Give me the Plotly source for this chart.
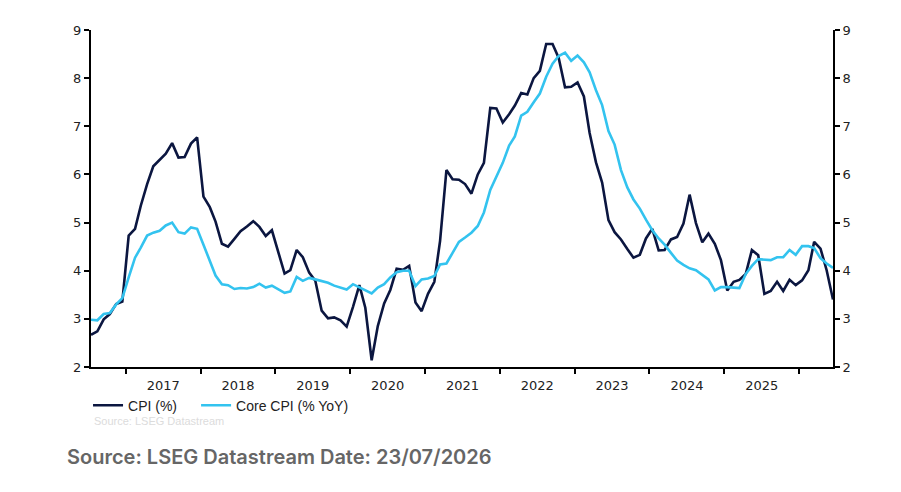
import pandas as pd
import plotly.graph_objects as go

# monthly readings, Jul 2016 .. Jun 2026
start_month = "2016-07-01"

cpi = [
    2.67, 2.74, 2.99, 3.10, 3.31, 3.36,
    4.73, 4.87, 5.35, 5.80, 6.17, 6.31, 6.43, 6.65, 6.35, 6.36, 6.64, 6.77,
    5.54, 5.32, 5.02, 4.56, 4.50, 4.66, 4.82, 4.92, 5.03, 4.91, 4.72, 4.84,
    4.38, 3.94, 4.01, 4.43, 4.28, 3.96, 3.79, 3.17, 3.01, 3.03, 2.97, 2.84,
    3.25, 3.70, 3.23, 2.14, 2.85, 3.32, 3.60, 4.04, 4.02, 4.10, 3.34, 3.16,
    3.52, 3.77, 4.62, 6.09, 5.90, 5.89, 5.80, 5.60, 6.00, 6.24, 7.38, 7.37,
    7.08, 7.25, 7.43, 7.69, 7.66, 8.00, 8.15, 8.71, 8.71, 8.42, 7.81, 7.82,
    7.91, 7.62, 6.86, 6.25, 5.83, 5.05, 4.80, 4.65, 4.45, 4.27, 4.33, 4.67,
    4.87, 4.42, 4.43, 4.65, 4.70, 4.98, 5.58, 4.99, 4.59, 4.77, 4.56, 4.22,
    3.59, 3.77, 3.81, 3.93, 4.43, 4.32, 3.52, 3.58, 3.77, 3.58, 3.81, 3.70,
    3.80, 4.01, 4.60, 4.46, 4.01, 3.40,
]

core_cpi = [
    2.98, 2.97, 3.10, 3.12, 3.30, 3.43,
    3.86, 4.27, 4.48, 4.73, 4.79, 4.83, 4.94, 5.00, 4.80, 4.77, 4.90, 4.87,
    4.54, 4.20, 3.90, 3.72, 3.70, 3.62, 3.64, 3.63, 3.66, 3.73, 3.65, 3.69,
    3.61, 3.54, 3.57, 3.87, 3.79, 3.85, 3.82, 3.78, 3.75, 3.69, 3.65, 3.61,
    3.72, 3.65, 3.60, 3.53, 3.65, 3.72, 3.86, 3.97, 4.00, 4.00, 3.68, 3.82,
    3.84, 3.89, 4.13, 4.15, 4.37, 4.60, 4.69, 4.79, 4.93, 5.21, 5.68, 5.97,
    6.24, 6.60, 6.79, 7.22, 7.30, 7.50, 7.68, 8.03, 8.30, 8.46, 8.53, 8.36,
    8.47, 8.33, 8.12, 7.75, 7.44, 6.90, 6.62, 6.09, 5.73, 5.48, 5.29, 5.06,
    4.84, 4.67, 4.54, 4.37, 4.21, 4.12, 4.05, 4.01, 3.92, 3.82, 3.59, 3.66,
    3.66, 3.65, 3.64, 3.93, 4.10, 4.24, 4.23, 4.22, 4.28, 4.28, 4.43, 4.33,
    4.51, 4.51, 4.47, 4.26, 4.15, 4.06,
]

y_ticks = [2, 3, 4, 5, 6, 7, 8, 9]

# points sit mid-month
dates = pd.date_range(start_month, periods=len(cpi), freq="MS") + pd.Timedelta(days=14)

navy = "#0b1640"
sky = "#33c3ef"

fig = go.Figure()
fig.add_trace(go.Scatter(x=dates, y=cpi, mode="lines", name="CPI (%)",
                         line=dict(color=navy, width=2.6), legend="legend"))
fig.add_trace(go.Scatter(x=dates, y=core_cpi, mode="lines", name="Core CPI (% YoY)",
                         line=dict(color=sky, width=2.6), yaxis="y2", legend="legend2"))

tick_font = dict(family="DejaVu Sans", size=13, color="#222222")
y_common = dict(range=[2, 9], tickvals=y_ticks, showgrid=False, zeroline=False,
                showline=True, linecolor="black", linewidth=2,
                ticks="outside", ticklen=5, tickwidth=1.5, tickcolor="black",
                tickfont=tick_font, fixedrange=True)

legend_font = dict(family="Liberation Sans", size=14, color="#222222")
legend_common = dict(orientation="h", y=-0.067, xanchor="left", yanchor="top",
                     font=legend_font, itemwidth=30, bgcolor="rgba(0,0,0,0)")

# page body adds an 8px offset, margins compensate for it
fig.update_layout(
    width=901, height=492,
    margin=dict(l=83, r=76, t=22, b=133),
    paper_bgcolor="white", plot_bgcolor="white",
    showlegend=True,
    legend=dict(x=-0.004, **legend_common),
    legend2=dict(x=0.1416, **legend_common),
    xaxis=dict(range=[dates[0], dates[-1]], type="date",
               tick0="2017-01-01", dtick="M12", tickformat="%Y",
               ticklabelmode="period", showgrid=False, zeroline=False,
               showline=True, linecolor="black", linewidth=2,
               ticks="outside", ticklen=5, tickwidth=1.5, tickcolor="black",
               tickfont=tick_font),
    yaxis=dict(side="left", **y_common),
    yaxis2=dict(side="right", overlaying="y", **y_common),
)

fig.add_annotation(text="Source: LSEG Datastream", xref="paper", yref="paper",
                   x=0.002, y=-0.137, xanchor="left", yanchor="top", showarrow=False,
                   font=dict(family="Liberation Sans", size=11, color="#dcdcdc"))
fig.add_annotation(text="Source: LSEG Datastream Date: 23/07/2026",
                   xref="paper", yref="paper", x=-0.035, y=-0.225,
                   xanchor="left", yanchor="top", showarrow=False,
                   font=dict(family="Inter", size=20, color="#666666", weight=600))

fig.write_html("out.html")
